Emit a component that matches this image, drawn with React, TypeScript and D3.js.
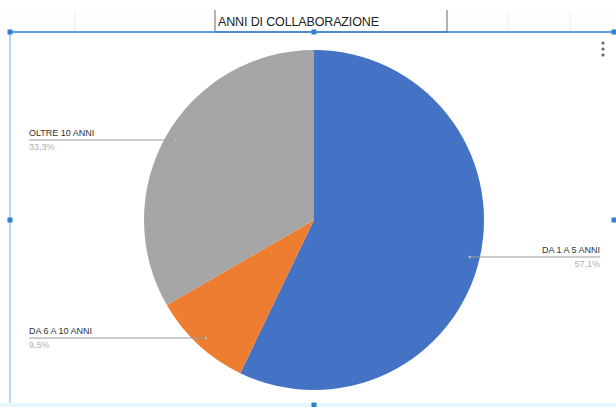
import * as d3 from 'd3';

const categories = ['DA 1 A 5 ANNI', 'DA 6 A 10 ANNI', 'OLTRE 10 ANNI'];
const values = [12, 2, 7];
const colors = ['#4472C4', '#ED7D31', '#A5A5A5'];
const title = 'ANNI DI COLLABORAZIONE';

export default function App() {
  const width = 616;
  const height = 407;
  const cx = 314;
  const cy = 220;
  const radius = 170;
  const total = d3.sum(values);

  const pie = d3.pie<number>().sort(null).value((d) => d);
  const arcs = pie(values);
  const arc = d3.arc<d3.PieArcDatum<number>>().innerRadius(0).outerRadius(radius);

  // label rows: vertical offset from center and side
  const labelLayout = [
    { dy: 37, side: 'right' },
    { dy: 118, side: 'left' },
    { dy: -80, side: 'left' },
  ];
  const fmt = (v: number) => ((v / total) * 100).toFixed(1).replace('.', ',') + '%';
  const leaderR = 160;

  const labels = arcs.map((a, i) => {
    const { dy, side } = labelLayout[i];
    const dx = Math.sqrt(leaderR * leaderR - dy * dy) * (side === 'right' ? 1 : -1);
    const px = cx + dx;
    const py = cy + dy;
    const tx = side === 'right' ? 600 : 29;
    const anchor = side === 'right' ? 'end' : 'start';
    return (
      <g key={i}>
        <line x1={px} x2={tx} y1={py} y2={py} stroke="#9a9a9a" strokeWidth={1} />
        <circle cx={px} cy={py} r={1.2} fill="#bbb" />
        <text x={tx} y={py - 4} fontSize={9} fill="#333" textAnchor={anchor}>
          {categories[i]}
        </text>
        <text x={tx} y={py + 10} fontSize={9} fill="#b0b0b0" textAnchor={anchor}>
          {fmt(a.data)}
        </text>
      </g>
    );
  });

  const gridX = [75, 508, 570];

  return (
    <svg
      width={width}
      height={height}
      style={{ position: 'absolute', left: 0, top: 0, fontFamily: '"Liberation Sans", Arial, sans-serif' }}
    >
      <rect width={width} height={height} fill="#fff" />
      {/* spreadsheet strip */}
      <rect x={0} y={10} width={width} height={22} fill="#fefefc" />
      {gridX.map((x) => (
        <line key={x} x1={x} x2={x} y1={10} y2={32} stroke="#eeeeee" />
      ))}
      <path d="M215,10V32H447V10" fill="#fff" stroke="#666" strokeWidth={1} />
      <text x={218} y={26} fontSize={12.5} fill="#222" textLength={161}>
        {title}
      </text>
      {/* selection frame */}
      <line x1={10} x2={616} y1={32} y2={32} stroke="#2f7fd6" strokeWidth={1.5} />
      <line x1={10} x2={10} y1={32} y2={407} stroke="#9cc6ee" strokeWidth={1.5} />
      <rect x={0} y={403} width={width} height={4} fill="#e6f6fa" />
      {[[10, 32], [314, 32], [614, 32], [10, 220], [614, 220], [314, 405]].map(([x, y], i) => (
        <rect key={i} x={x - 2.5} y={y - 2.5} width={5} height={5} fill="#2f7fd6" />
      ))}
      {[43, 49, 55].map((y) => (
        <circle key={y} cx={603} cy={y} r={1.6} fill="#666" />
      ))}
      <g transform={`translate(${cx},${cy})`}>
        {arcs.map((a, i) => (
          <path key={i} d={arc(a) || ''} fill={colors[i]} />
        ))}
      </g>
      {labels}
    </svg>
  );
}
